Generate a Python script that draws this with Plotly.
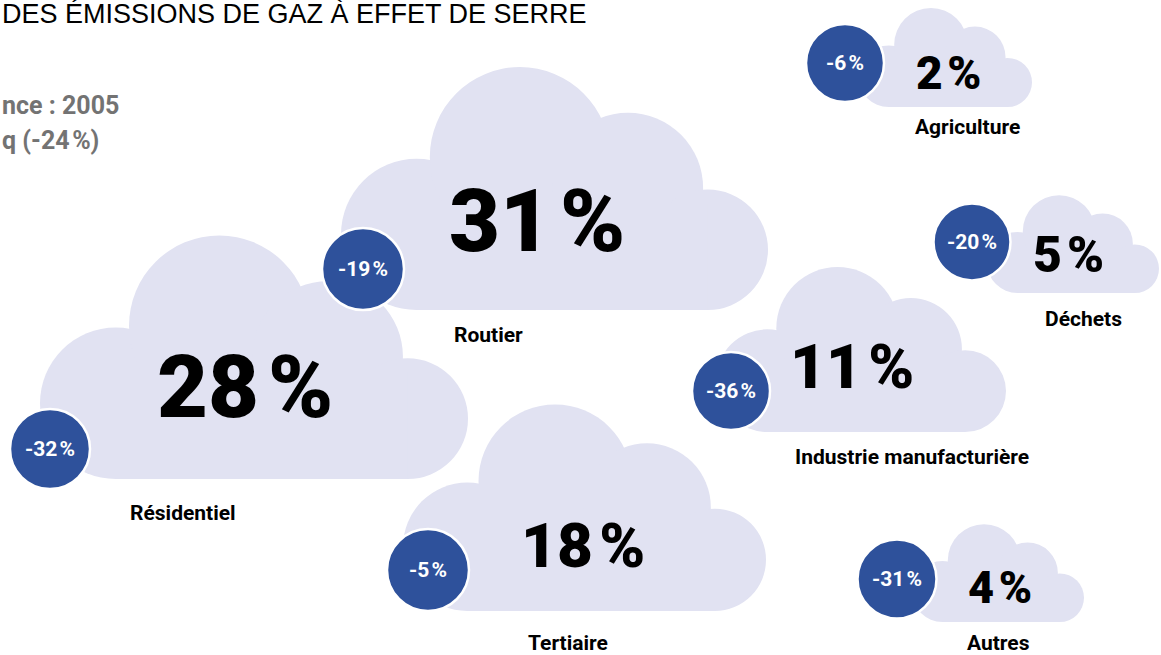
import plotly.graph_objects as go

# ---- data ----
categories = ["Résidentiel", "Routier", "Tertiaire", "Industrie manufacturière",
              "Agriculture", "Déchets", "Autres"]
shares = [28, 31, 18, 11, 2, 5, 4]           # share of GHG emissions (%)
changes = [-32, -19, -5, -36, -6, -20, -31]  # change since 2005 (%)
title_text = "DES ÉMISSIONS DE GAZ À EFFET DE SERRE"
side_lines = ["nce : 2005", "q (-24\u200a%)"]

# ---- layout (pixel positions) ----
W, H = 1161, 655
cloud_left = [40, 341, 403, 716, 858, 987, 912]
cloud_bottom = [479, 310, 611, 432, 107, 293, 622]
cloud_width = [428, 427, 363, 290, 174, 172, 172]
badge_x = [50, 363, 428, 731, 845, 972, 897]
badge_y = [449, 269, 570, 391, 63, 242, 579]
badge_r = [40, 41, 41, 39, 39, 38.5, 39.5]
value_x = [245, 537, 583, 852, 949, 1068, 1000]
value_y = [386, 220, 545, 366, 73, 255, 587]
value_size = [88, 88, 62, 62, 46, 50, 45]
label_x = [183, 488, 568, 912, 967, 1083, 998]
label_y = [513, 335, 643, 457, 127, 319, 643]

CLOUD = "#E1E2F2"
BADGE = "#2E519B"
FONT = "Roboto, Liberation Sans Narrow, DejaVu Sans Condensed, sans-serif"

# cloud made of lobes (cx, cy-from-bottom, r) in units of cloud width
lobes = [(0.177, 0.177, 0.177), (0.419, 0.358, 0.211),
         (0.672, 0.286, 0.176), (0.859, 0.141, 0.141)]

fig = go.Figure()
fig.add_trace(go.Scatter(x=[0], y=[0], mode="markers", marker=dict(opacity=0),
                         hoverinfo="skip", showlegend=False))

shapes = []
annotations = []
for i, cat in enumerate(categories):
    L, B, Wd = cloud_left[i], cloud_bottom[i], cloud_width[i]
    for (cx, cy, r) in lobes:
        X, Y, R = L + cx * Wd, B - cy * Wd, r * Wd
        shapes.append(dict(type="circle", xref="x", yref="y",
                           x0=X - R, x1=X + R, y0=Y - R, y1=Y + R,
                           fillcolor=CLOUD, line=dict(width=0), layer="below"))
    shapes.append(dict(type="rect", xref="x", yref="y",
                       x0=L + 0.177 * Wd, x1=L + 0.859 * Wd,
                       y0=B - 0.25 * Wd, y1=B,
                       fillcolor=CLOUD, line=dict(width=0), layer="below"))
for i, cat in enumerate(categories):
    bx, by, br = badge_x[i], badge_y[i], badge_r[i]
    shapes.append(dict(type="circle", xref="x", yref="y",
                       x0=bx - br, x1=bx + br, y0=by - br, y1=by + br,
                       fillcolor=BADGE, line=dict(color="white", width=2.5),
                       layer="above"))
    annotations.append(dict(x=bx, y=by, xref="x", yref="y", showarrow=False,
                            text=f"{changes[i]}\u200a%",
                            font=dict(family=FONT, size=21, color="white", weight=700),
                            xanchor="center", yanchor="middle"))
    annotations.append(dict(x=value_x[i], y=value_y[i], xref="x", yref="y",
                            showarrow=False,
                            text=f"{shares[i]}\u200a%",
                            font=dict(family=FONT, size=value_size[i], color="black",
                                      weight=900),
                            xanchor="center", yanchor="middle"))
    annotations.append(dict(x=label_x[i], y=label_y[i], xref="x", yref="y",
                            showarrow=False, text=cat,
                            font=dict(family=FONT, size=21, color="black", weight=700),
                            xanchor="center", yanchor="middle"))

annotations.append(dict(x=0, y=14, xref="paper", yref="y", showarrow=False,
                        text=title_text, xanchor="left", yanchor="middle",
                        font=dict(family="Liberation Sans, Arial, sans-serif",
                                  size=27, color="black")))
for j, (t, yy) in enumerate(zip(side_lines, [105, 140])):
    annotations.append(dict(x=0, y=yy, xref="paper", yref="y", showarrow=False,
                            text=t, xanchor="left", yanchor="middle",
                            font=dict(family=FONT, size=25, color="#737373",
                                      weight=700)))

fig.update_layout(
    width=W, height=H, margin=dict(l=0, r=0, t=0, b=0),
    paper_bgcolor="white", plot_bgcolor="white",
    xaxis=dict(range=[0, W], visible=False, fixedrange=True),
    yaxis=dict(range=[H, 0], visible=False, fixedrange=True),
    shapes=shapes, annotations=annotations, showlegend=False,
)
fig.write_html("out.html", config={"displayModeBar": False},
               post_script="document.body.style.margin='0';document.body.style.overflow='hidden';")
